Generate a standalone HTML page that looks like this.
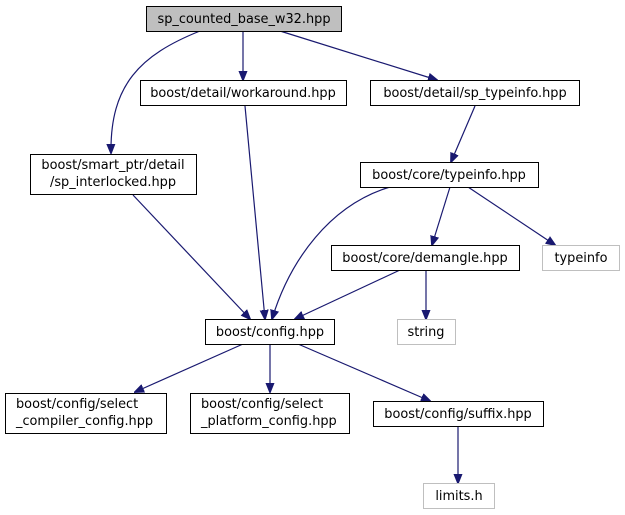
<!DOCTYPE html>
<html><head><style>
html,body{margin:0;padding:0;background:#fff;}
svg{display:block;}
text{font-family:"DejaVu Sans","Liberation Sans",sans-serif;font-size:12.9px;fill:#000;}
</style></head><body>
<svg width="625" height="515" viewBox="0 0 625 515" xmlns="http://www.w3.org/2000/svg">
<defs>
<marker id="a" markerWidth="10" markerHeight="10" refX="9" refY="5" orient="auto" markerUnits="userSpaceOnUse">
<path d="M0,1 L10,5 L0,9 Z" fill="#191970" stroke="#191970"/>
</marker>
</defs>
<g fill="none" stroke="#191970" stroke-width="1.2" marker-end="url(#a)">
<path d="M200,31 C140,55 110,85 111,153"/>
<path d="M243,31 L243,80"/>
<path d="M280,31 L437,80"/>
<path d="M245,106 L265,319"/>
<path d="M475,106 L451,162"/>
<path d="M133,195 L250,319"/>
<path d="M390,187 C330,205 290,260 272,319"/>
<path d="M450,187 L432,245"/>
<path d="M468,187 L555,245"/>
<path d="M400,270 L295,319"/>
<path d="M426,270 L426,319"/>
<path d="M243,344 L135,392"/>
<path d="M270,344 L270,392"/>
<path d="M298,344 L430,401"/>
<path d="M458,427 L458,483"/>
</g>
<g stroke-width="1">
<rect x="146.5" y="6.5" width="195" height="25" fill="#bfbfbf" stroke="#000"/>
<rect x="140.5" y="80.5" width="206" height="25" fill="#fff" stroke="#000"/>
<rect x="370.5" y="80.5" width="209" height="25" fill="#fff" stroke="#000"/>
<rect x="30.5" y="154.5" width="166" height="40" fill="#fff" stroke="#000"/>
<rect x="360.5" y="162.5" width="178" height="25" fill="#fff" stroke="#000"/>
<rect x="331.5" y="245.5" width="188" height="25" fill="#fff" stroke="#000"/>
<rect x="542.5" y="245.5" width="77" height="25" fill="#fff" stroke="#bfbfbf"/>
<rect x="205.5" y="319.5" width="129" height="25" fill="#fff" stroke="#000"/>
<rect x="397.5" y="319.5" width="58" height="25" fill="#fff" stroke="#bfbfbf"/>
<rect x="5.5" y="393.5" width="161" height="40" fill="#fff" stroke="#000"/>
<rect x="190.5" y="393.5" width="159" height="40" fill="#fff" stroke="#000"/>
<rect x="373.5" y="401.5" width="170" height="25" fill="#fff" stroke="#000"/>
<rect x="423.5" y="483.5" width="71" height="25" fill="#fff" stroke="#bfbfbf"/>
</g>
<g text-anchor="middle">
<text x="244" y="23">sp_counted_base_w32.hpp</text>
<text x="243" y="97">boost/detail/workaround.hpp</text>
<text x="475" y="97">boost/detail/sp_typeinfo.hpp</text>
<text x="113" y="169">boost/smart_ptr/detail</text>
<text x="113" y="186">/sp_interlocked.hpp</text>
<text x="449" y="179">boost/core/typeinfo.hpp</text>
<text x="425" y="262">boost/core/demangle.hpp</text>
<text x="581" y="262">typeinfo</text>
<text x="270" y="336">boost/config.hpp</text>
<text x="426" y="336">string</text>
<text x="458" y="418">boost/config/suffix.hpp</text>
<text x="459" y="500">limits.h</text>
</g>
<text x="16" y="408">boost/config/select</text>
<text x="16" y="425">_compiler_config.hpp</text>
<text x="201" y="408">boost/config/select</text>
<text x="201" y="425">_platform_config.hpp</text>
</svg>
</body></html>
